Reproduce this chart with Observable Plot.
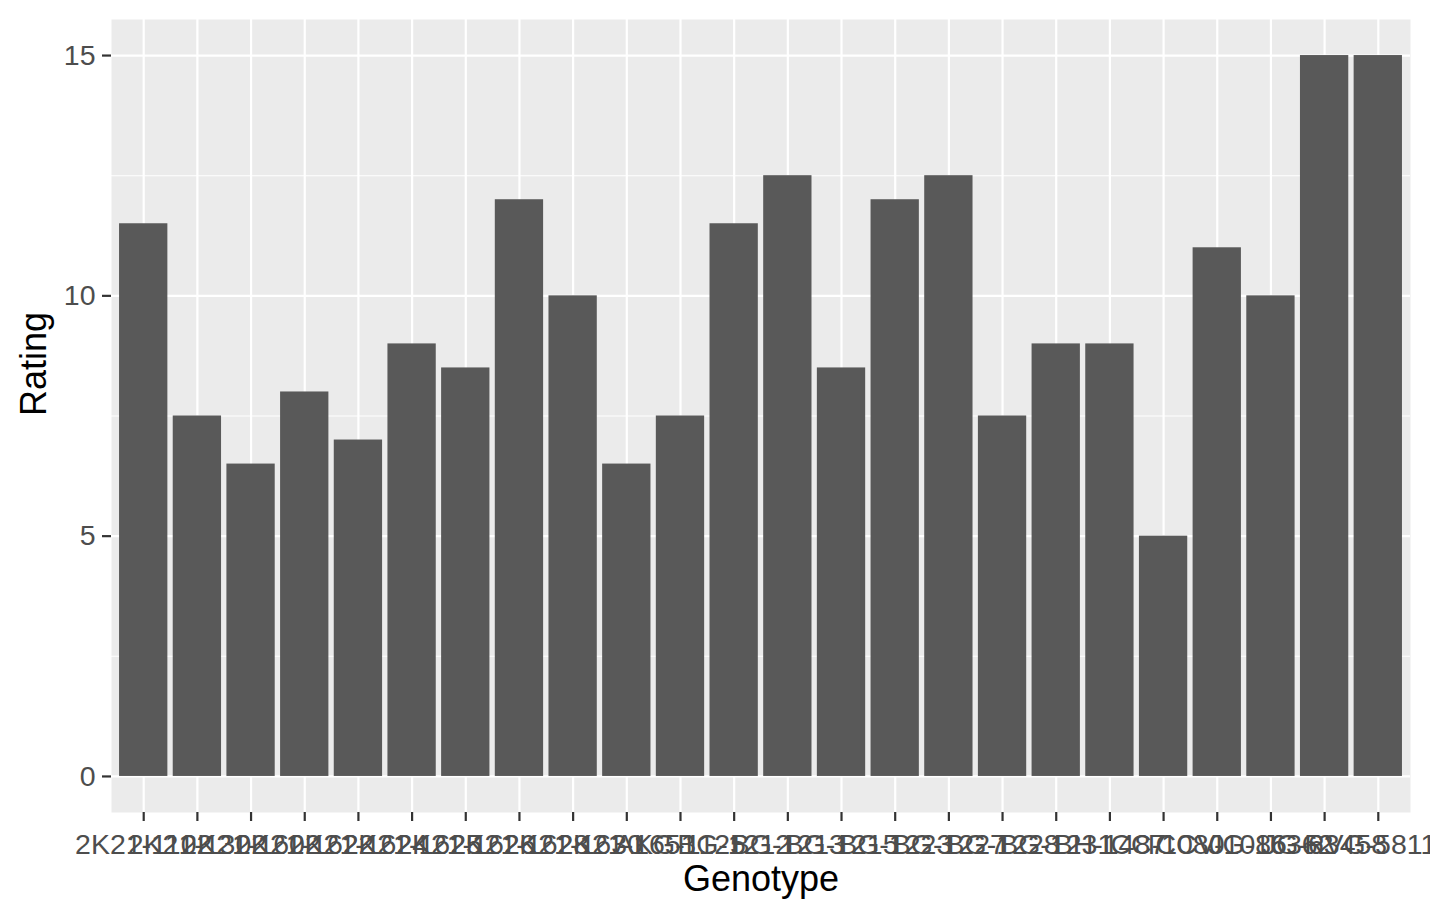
<!DOCTYPE html>
<html>
<head>
<meta charset="utf-8">
<script src="https://cdn.jsdelivr.net/npm/d3@7"></script>
<script src="https://cdn.jsdelivr.net/npm/@observablehq/plot@0.6"></script>
<style>
  html, body { margin: 0; padding: 0; background: #ffffff; }
  #chart { width: 1430px; height: 922px; }
</style>
</head>
<body>
<div id="chart"></div>
<script>
const genotypes = [
  "2K21-1102", "2K21-1302", "2K21-1602", "2K21-1622", "2K21-1624", "2K21-1625",
  "2K21-1626", "2K21-1628", "2K21-1630", "2K21-1651", "AKG-1125", "BG-1212",
  "BG-1213", "BG-1215", "BG-1223", "BG-1227", "BG-1228", "BG-1231",
  "BH-1487", "ICC-1080", "ICCV-1086", "JG-16362", "JG-63458", "RVG-58119"
];
const ratings = [
  11.5, 7.5, 6.5, 8, 7, 9, 8.5, 12, 10, 6.5, 7.5, 11.5,
  12.5, 8.5, 12, 12.5, 7.5, 9, 9, 5, 11, 10, 15, 15
];
const majorTicks = [0, 5, 10, 15];
const minorTicks = [2.5, 7.5, 12.5];

const data = genotypes.map((g, i) => ({genotype: g, rating: ratings[i]}));

const plot = Plot.plot({
  width: 1430,
  height: 922,
  marginLeft: 111,
  marginRight: 20,
  marginTop: 19,
  marginBottom: 110,
  style: {fontFamily: "'Liberation Sans', Arial, Helvetica, sans-serif", background: "#ffffff"},
  x: {domain: genotypes, paddingInner: 0.1, paddingOuter: 0.15, round: false, label: null},
  y: {domain: [-0.75, 15.75], label: null},
  marks: [
    Plot.frame({fill: "#EBEBEB", stroke: null}),
    Plot.gridY(minorTicks, {stroke: "#ffffff", strokeOpacity: 1, strokeWidth: 1.1}),
    Plot.gridY(majorTicks, {stroke: "#ffffff", strokeOpacity: 1, strokeWidth: 2.2}),
    Plot.gridX({stroke: "#ffffff", strokeOpacity: 1, strokeWidth: 2.2}),
    Plot.barY(data, {x: "genotype", y1: 0, y2: "rating", fill: "#595959"}),
    Plot.axisY(majorTicks, {tickSize: 9, tickPadding: 7, fontSize: 28.5, stroke: "#333333", strokeWidth: 2.2, fill: "#4D4D4D", label: null}),
    Plot.axisX({tickSize: 9, tickPadding: 12, fontSize: 28.5, stroke: "#333333", strokeWidth: 2.2, fill: "#4D4D4D", label: null}),
    Plot.text(["Genotype"], {frameAnchor: "bottom", dy: 78, fontSize: 36, fill: "#000000", text: d => d}),
    Plot.text(["Rating"], {frameAnchor: "left", dx: -77, rotate: -90, fontSize: 36, fill: "#000000", text: d => d})
  ]
});
document.getElementById("chart").appendChild(plot);
</script>
</body>
</html>
